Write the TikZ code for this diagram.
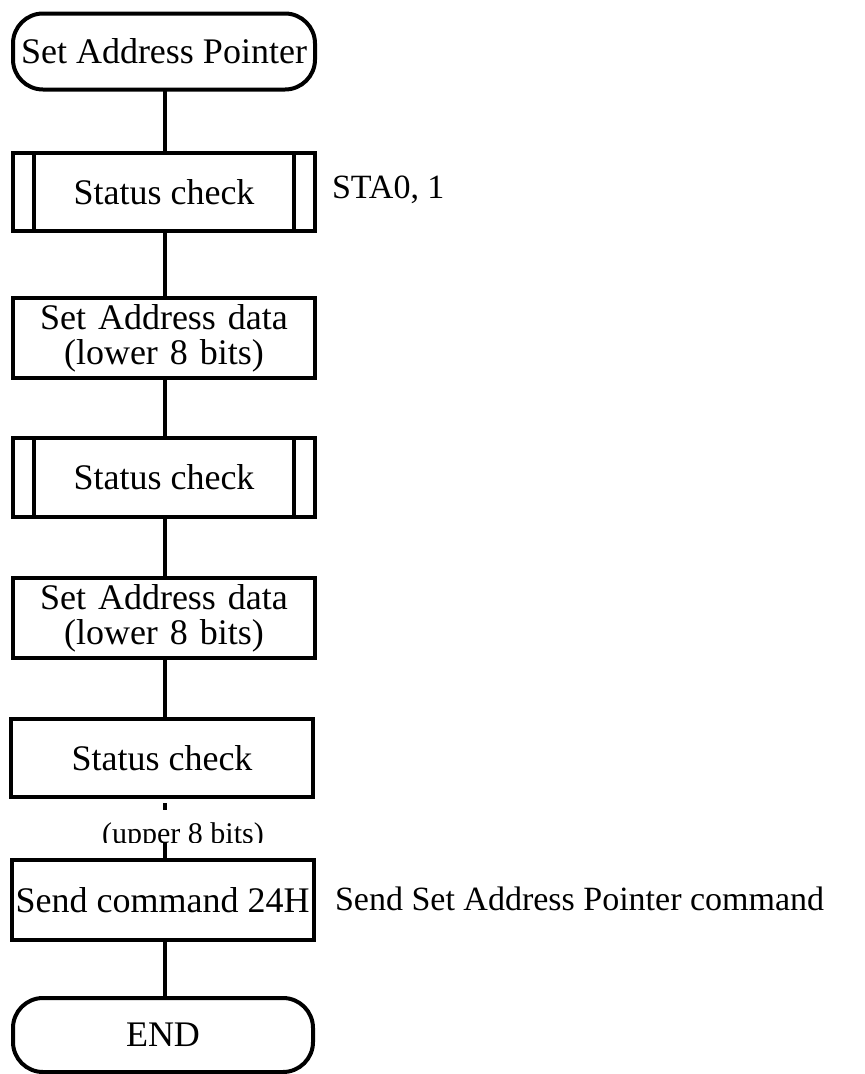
\documentclass[tikz,border=0pt]{standalone}
\usepackage{fontspec}
\setmainfont{Liberation Serif}
\begin{document}
\begin{tikzpicture}[x=1pt,y=-1pt,
  every node/.style={inner sep=0pt, outer sep=0pt, font=\fontsize{36}{36}\selectfont},
  boxstyle/.style={draw, line width=4pt, rectangle, minimum width=302pt, minimum height=79pt, align=center},
  termstyle/.style={boxstyle, rounded corners=30pt},
  conn/.style={line width=3.5pt},
  sidelabel/.style={anchor=west, font=\fontsize{34}{34}\selectfont}]
\useasboundingbox (0,0) rectangle (865,1074);
\node[termstyle, minimum height=76pt] (start) at (164,51.5) {Set Address Pointer};
\node[boxstyle, minimum height=78pt] (sc1) at (164,192) {Status check};
\draw[line width=4pt] ([xshift=21pt]sc1.north west) -- ([xshift=21pt]sc1.south west)
  ([xshift=-21pt]sc1.north east) -- ([xshift=-21pt]sc1.south east);
\node[sidelabel] (sta) at (332,190) {STA0, 1};
\node[boxstyle, minimum height=80pt, text width=296pt, font=\fontsize{36}{35}\selectfont] (sa1) at (164,338) {Set Address data\\(lower 8 bits)};
\node[boxstyle] (sc2) at (164,477.5) {Status check};
\draw[line width=4pt] ([xshift=21pt]sc2.north west) -- ([xshift=21pt]sc2.south west)
  ([xshift=-21pt]sc2.north east) -- ([xshift=-21pt]sc2.south east);
\node[boxstyle, minimum height=80pt, text width=296pt, font=\fontsize{36}{35}\selectfont] (sa2) at (164,618) {Set Address data\\(lower 8 bits)};
\node[boxstyle, minimum height=78pt] (sc3) at (162,758) {Status check};
\node[boxstyle, minimum height=80pt] (send) at (162.5,900) {Send command 24H};
\node[sidelabel] (sendlbl) at (335,899) {Send Set Address Pointer command};
\node[termstyle, minimum width=300pt, minimum height=74pt] (end) at (163,1035) {END};
\begin{scope}
\clip (0,800) rectangle (865,842);
\node[font=\fontsize{30}{30}\selectfont, anchor=base] (upper) at (183,843) {(upper 8 bits)};
\end{scope}
\coordinate (stubA) at (165,803);
\coordinate (stubB) at (165,810);
\coordinate (stubC) at (165,842);
\draw[conn] (start.south -| 165,0) -- (sc1.north -| 165,0);
\draw[conn] (sc1.south -| 165,0) -- (sa1.north -| 165,0);
\draw[conn] (sa1.south -| 165,0) -- (sc2.north -| 165,0);
\draw[conn] (sc2.south -| 165,0) -- (sa2.north -| 165,0);
\draw[conn] (sa2.south -| 165,0) -- (sc3.north -| 165,0);
\draw[conn] (stubA) -- (stubB);
\draw[conn] (stubC) -- (send.north -| stubC);
\draw[conn] (send.south -| 165,0) -- (end.north -| 165,0);
\end{tikzpicture}
\end{document}
